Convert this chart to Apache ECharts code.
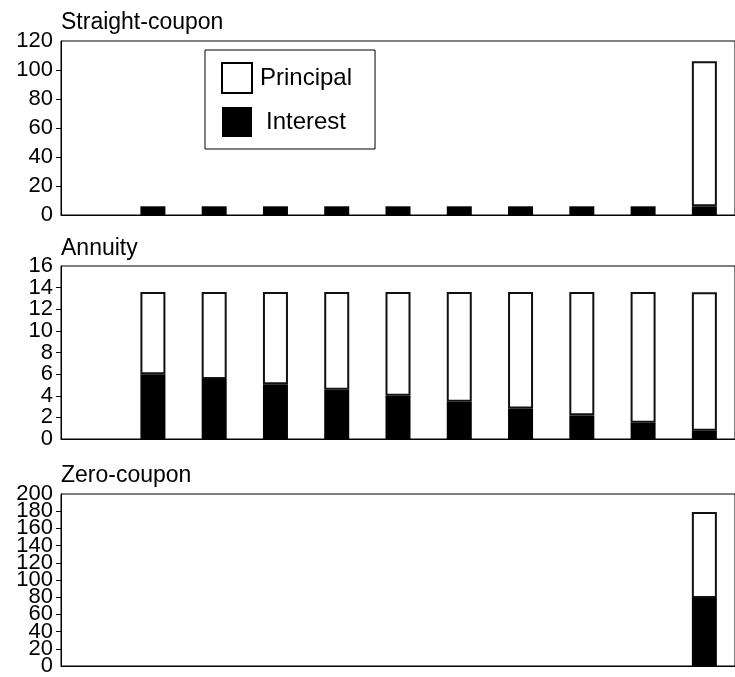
<!DOCTYPE html>
<html>
<head>
<meta charset="utf-8">
<script src="https://cdn.jsdelivr.net/npm/echarts@6/dist/echarts.min.js"></script>
<style>
  html, body { margin: 0; padding: 0; background: #fff; }
  #chart { width: 735px; height: 677px; }
</style>
</head>
<body>
<div id="chart"></div>
<script>
// periods 0..10 (labels not shown in the figure)
const periods = ['0', '1', '2', '3', '4', '5', '6', '7', '8', '9', '10'];

// Straight-coupon bond
const straightInterest = ['-', 6, 6, 6, 6, 6, 6, 6, 6, 6, 6];
const straightPrincipal = ['-', '-', '-', '-', '-', '-', '-', '-', '-', '-', 100];

// Annuity
const annuityInterest = ['-', 6.0, 5.54, 5.06, 4.55, 4.01, 3.44, 2.83, 2.19, 1.51, 0.77];
const annuityPrincipal = ['-', 7.59, 8.05, 8.53, 9.04, 9.58, 10.15, 10.76, 11.4, 12.09, 12.81];

// Zero-coupon bond
const zeroInterest = ['-', '-', '-', '-', '-', '-', '-', '-', '-', '-', 79.08];
const zeroPrincipal = ['-', '-', '-', '-', '-', '-', '-', '-', '-', '-', 100];

const panelTitles = ['Straight-coupon', 'Annuity', 'Zero-coupon'];
const yMax = [120, 16, 200];
const yStep = [20, 2, 20];

const font = "'Liberation Sans', Arial, Helvetica, sans-serif";
const ink = '#000';

let chart = echarts.init(document.getElementById('chart'), null, { renderer: 'canvas' });

const gridTops = [41, 266, 494];
const gridHeights = [174, 173, 174];
const titleTops = [11, 237, 464];

const labelStyle = { fontFamily: font, fontSize: 22, color: '#000', margin: 8 };

// main value axes (inner labels); a second label-only axis per panel carries
// the 0 and max labels so the crowded tick labels are not dropped
let yAxes = [];
[0, 1, 2].forEach((i) => {
  yAxes.push({
    type: 'value',
    gridIndex: i,
    min: 0,
    max: yMax[i],
    interval: yStep[i],
    axisLine: { show: true, lineStyle: { color: ink, width: 1 } },
    axisTick: { show: true, length: 5, lineStyle: { color: ink } },
    axisLabel: Object.assign({ showMinLabel: false, showMaxLabel: false }, labelStyle),
    splitLine: { show: false },
  });
});
[0, 1, 2].forEach((i) => {
  yAxes.push({
    type: 'value',
    gridIndex: i,
    position: 'left',
    offset: 0,
    min: 0,
    max: yMax[i],
    interval: yMax[i],
    axisLine: { show: false },
    axisTick: { show: false },
    axisLabel: Object.assign({ showMinLabel: true, showMaxLabel: true }, labelStyle),
    splitLine: { show: false },
  });
});

let option = {
  animation: false,
  backgroundColor: '#fff',
  title: panelTitles.map((t, i) => ({
    text: t,
    left: 61,
    top: titleTops[i],
    padding: 0,
    textStyle: { fontFamily: font, fontSize: 23, fontWeight: 'normal', color: '#000' },
  })),
  legend: {
    orient: 'vertical',
    left: 205,
    top: 50,
    padding: [12, 23, 12, 16],
    itemWidth: 30,
    itemHeight: 30,
    itemGap: 13,
    backgroundColor: '#fff',
    borderColor: ink,
    borderWidth: 1,
    borderRadius: 0,
    icon: 'rect',
    textStyle: { fontFamily: font, fontSize: 24, color: '#000', padding: [0, 0, 0, 3] },
    data: [
      { name: 'Principal', itemStyle: { color: '#fff', borderColor: ink, borderWidth: 2 } },
      { name: 'Interest', itemStyle: { color: '#000', borderWidth: 0 }, textStyle: { padding: [0, 0, 0, 9] } },
    ],
  },
  grid: gridTops.map((top, i) => ({
    left: 61,
    right: -10, // last category runs just past the window edge
    top: top,
    height: gridHeights[i],
    show: true,
    borderColor: ink,
    borderWidth: 1,
    backgroundColor: 'transparent',
  })),
  xAxis: [0, 1, 2].map((i) => ({
    type: 'category',
    gridIndex: i,
    data: periods,
    axisLine: { show: true, lineStyle: { color: ink, width: 1 } },
    axisTick: { show: false },
    axisLabel: { show: false },
    splitLine: { show: false },
  })),
  yAxis: yAxes,
  series: [],
};

const stacks = [
  [straightInterest, straightPrincipal],
  [annuityInterest, annuityPrincipal],
  [zeroInterest, zeroPrincipal],
];

stacks.forEach(([interest, principal], i) => {
  option.series.push({
    name: 'Interest',
    type: 'bar',
    xAxisIndex: i,
    yAxisIndex: i,
    stack: 'p' + i,
    barWidth: 25,
    itemStyle: { color: '#000' },
    data: interest,
  });
  option.series.push({
    name: 'Principal',
    type: 'bar',
    xAxisIndex: i,
    yAxisIndex: i,
    stack: 'p' + i,
    barWidth: 25,
    itemStyle: { color: '#fff', borderColor: '#111', borderWidth: 2 },
    data: principal,
  });
});

chart.setOption(option);
window.addEventListener('resize', chart.resize);
</script>
</body>
</html>
